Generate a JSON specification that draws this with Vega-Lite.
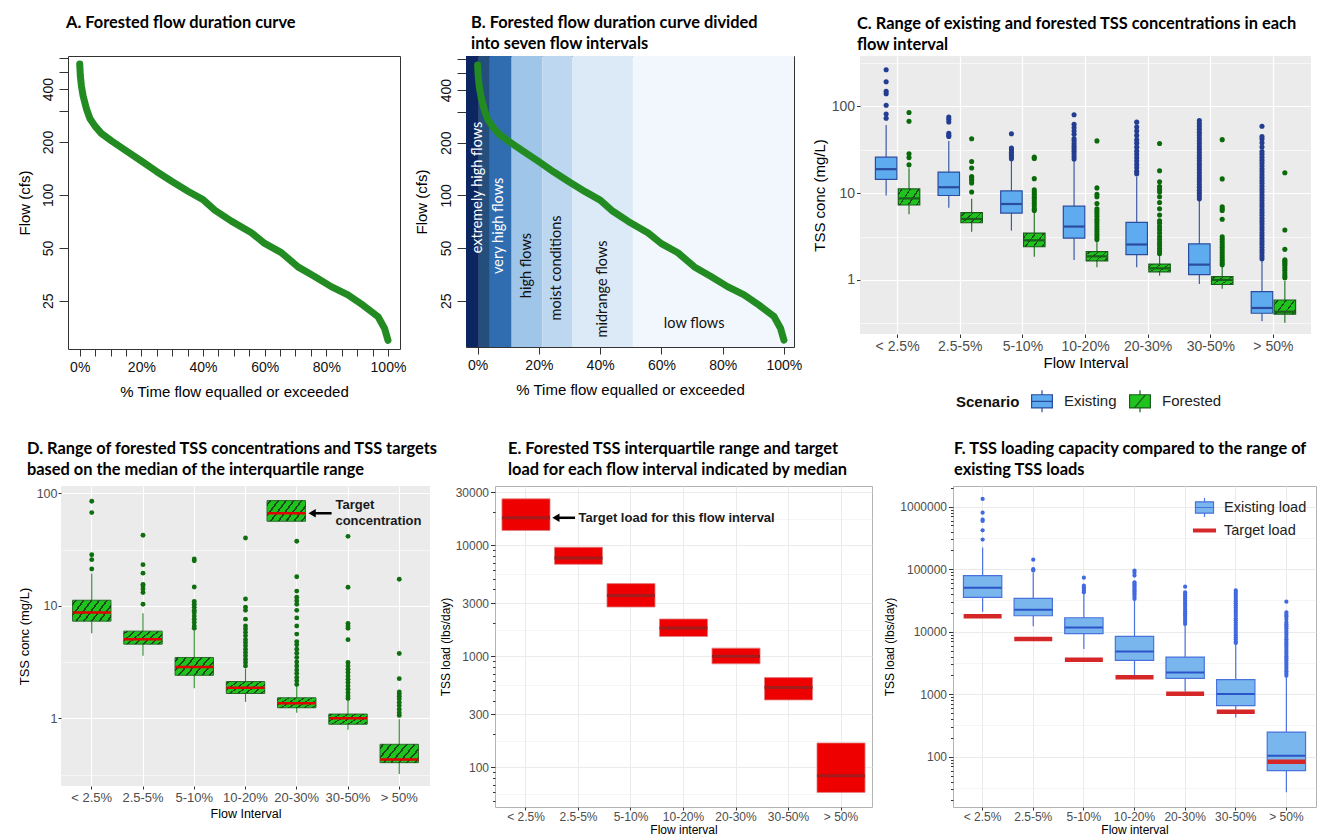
{
"$schema": "https://vega.github.io/schema/vega-lite/v6.json",
"background": "white",
"padding": {"left": 16, "top": 14, "right": 0, "bottom": 0},
"config": {
 "view": {"stroke": null},
 "font": "Liberation Sans",
 "axis": {"labelFont": "Liberation Sans", "titleFont": "Liberation Sans", "titleFontWeight": "normal", "domain": false, "labelColor": "#4d4d4d", "titleColor": "#000000", "tickColor": "#333333", "labelOverlap": false, "labelFlush": false},
 "title": {"font": "Lato", "fontWeight": "bold", "fontSize": 16.4, "anchor": "start", "frame": "group", "color": "#000000", "lineHeight": 21},
 "legend": {"labelFont": "Liberation Sans", "titleFont": "Liberation Sans"},
 "tick": {"opacity": 1},
 "point": {"opacity": 1}
},
"datasets": {
 "fdc": [
  {"pct":0,"flow":556},{"pct":0.2,"flow":477},{"pct":0.54,"flow":418},{"pct":1.1,"flow":366},{"pct":2.2,"flow":308},{"pct":3.3,"flow":272},{"pct":4.9,"flow":247},{"pct":7,"flow":224},{"pct":10.3,"flow":203},{"pct":15.1,"flow":178},{"pct":20,"flow":156},{"pct":24.9,"flow":136},{"pct":29.7,"flow":120},{"pct":35.1,"flow":105},{"pct":40,"flow":94},{"pct":43.8,"flow":82},{"pct":49.2,"flow":71},{"pct":55.7,"flow":61},{"pct":60,"flow":53},{"pct":65.4,"flow":47},{"pct":70.8,"flow":39},{"pct":76.2,"flow":34.4},{"pct":81.6,"flow":30.1},{"pct":87,"flow":27},{"pct":91.9,"flow":23.6},{"pct":96.8,"flow":20.3},{"pct":98.9,"flow":17.4},{"pct":100,"flow":14.9}
 ],
 "bands": [
  {"band":"b1","from":-3.8,"to":0.4},{"band":"b2","from":0.4,"to":4.0},{"band":"b3","from":4.0,"to":11.1},{"band":"b4","from":11.1,"to":21.1},{"band":"b5","from":21.1,"to":31.0},{"band":"b6","from":31.0,"to":50.7},{"band":"b7","from":50.7,"to":103.3}
 ],
 "blabels": [
  {"label":"extremely high flows","pct":0.0,"flow":111},
  {"label":"very high flows","pct":7.1,"flow":67},
  {"label":"high flows","pct":16.1,"flow":39.7},
  {"label":"moist conditions","pct":26.0,"flow":38.5},
  {"label":"midrange flows","pct":40.8,"flow":29.2},
  {"label":"low  flows","pct":70.7,"flow":18.4}
 ],
 "cbox": [
  {"cat":"< 2.5%","scenario":"Existing","lo":9.4,"q1":14.4,"med":18.9,"q3":26,"hi":61},
  {"cat":"2.5-5%","scenario":"Existing","lo":6.8,"q1":9.4,"med":11.7,"q3":17.5,"hi":40},
  {"cat":"5-10%","scenario":"Existing","lo":3.7,"q1":5.9,"med":7.5,"q3":10.6,"hi":24.5},
  {"cat":"10-20%","scenario":"Existing","lo":1.7,"q1":3.03,"med":4.12,"q3":7.07,"hi":23.8},
  {"cat":"20-30%","scenario":"Existing","lo":1.4,"q1":1.96,"med":2.56,"q3":4.6,"hi":15.5},
  {"cat":"30-50%","scenario":"Existing","lo":0.9,"q1":1.15,"med":1.5,"q3":2.6,"hi":8.4},
  {"cat":"> 50%","scenario":"Existing","lo":0.334,"q1":0.413,"med":0.475,"q3":0.733,"hi":1.67},
  {"cat":"< 2.5%","scenario":"Forested","lo":5.7,"q1":7.3,"med":8.7,"q3":11.2,"hi":19.4},
  {"cat":"2.5-5%","scenario":"Forested","lo":3.59,"q1":4.56,"med":5.05,"q3":5.95,"hi":8.6},
  {"cat":"5-10%","scenario":"Forested","lo":1.85,"q1":2.41,"med":2.86,"q3":3.47,"hi":6.0},
  {"cat":"10-20%","scenario":"Forested","lo":1.4,"q1":1.66,"med":1.87,"q3":2.12,"hi":2.77},
  {"cat":"20-30%","scenario":"Forested","lo":1.12,"q1":1.24,"med":1.36,"q3":1.52,"hi":1.94},
  {"cat":"30-50%","scenario":"Forested","lo":0.79,"q1":0.885,"med":1.0,"q3":1.09,"hi":1.43},
  {"cat":"> 50%","scenario":"Forested","lo":0.32,"q1":0.403,"med":0.43,"q3":0.587,"hi":0.98}
 ],
 "cout": [
  {"cat":"< 2.5%","scenario":"Existing","v":264},{"cat":"< 2.5%","scenario":"Existing","v":192},{"cat":"< 2.5%","scenario":"Existing","v":149},{"cat":"< 2.5%","scenario":"Existing","v":140},{"cat":"< 2.5%","scenario":"Existing","v":103},{"cat":"< 2.5%","scenario":"Existing","v":81.5},{"cat":"< 2.5%","scenario":"Existing","v":73},
  {"cat":"2.5-5%","scenario":"Existing","v":75.4},{"cat":"2.5-5%","scenario":"Existing","v":70.9},{"cat":"2.5-5%","scenario":"Existing","v":66.1},{"cat":"2.5-5%","scenario":"Existing","v":49},{"cat":"2.5-5%","scenario":"Existing","v":46.5},{"cat":"2.5-5%","scenario":"Existing","v":45},
  {"cat":"5-10%","scenario":"Existing","v":48.3},{"cat":"5-10%","scenario":"Existing","v":33.2},{"cat":"5-10%","scenario":"Existing","v":31.5},{"cat":"5-10%","scenario":"Existing","v":29.6},{"cat":"5-10%","scenario":"Existing","v":27.9},{"cat":"5-10%","scenario":"Existing","v":26.4},{"cat":"5-10%","scenario":"Existing","v":25},
  {"cat":"10-20%","scenario":"Existing","v":80},{"cat":"10-20%","scenario":"Existing","v":62},{"cat":"10-20%","scenario":"Existing","v":56.6},{"cat":"10-20%","scenario":"Existing","v":51.9},{"cat":"10-20%","scenario":"Existing","v":47.6},{"cat":"10-20%","scenario":"Existing","v":42.3},{"cat":"10-20%","scenario":"Existing","v":39.9},{"cat":"10-20%","scenario":"Existing","v":37.1},{"cat":"10-20%","scenario":"Existing","v":34.7},{"cat":"10-20%","scenario":"Existing","v":32.6},{"cat":"10-20%","scenario":"Existing","v":30.5},{"cat":"10-20%","scenario":"Existing","v":28.5},{"cat":"10-20%","scenario":"Existing","v":26.5},{"cat":"10-20%","scenario":"Existing","v":24.8},
  {"cat":"20-30%","scenario":"Existing","v":65.8},{"cat":"20-30%","scenario":"Existing","v":57.7},{"cat":"20-30%","scenario":"Existing","v":51.9},{"cat":"20-30%","scenario":"Existing","v":46.3},{"cat":"20-30%","scenario":"Existing","v":41.1},{"cat":"20-30%","scenario":"Existing","v":37.7},{"cat":"20-30%","scenario":"Existing","v":33.9},{"cat":"20-30%","scenario":"Existing","v":30.5},{"cat":"20-30%","scenario":"Existing","v":27.9},{"cat":"20-30%","scenario":"Existing","v":25.6},{"cat":"20-30%","scenario":"Existing","v":23.4},{"cat":"20-30%","scenario":"Existing","v":21.4},{"cat":"20-30%","scenario":"Existing","v":19.6},{"cat":"20-30%","scenario":"Existing","v":17.9},{"cat":"20-30%","scenario":"Existing","v":16.7},
  {"cat":"30-50%","scenario":"Existing","v":8.6},{"cat":"30-50%","scenario":"Existing","v":9.3},{"cat":"30-50%","scenario":"Existing","v":10},{"cat":"30-50%","scenario":"Existing","v":10.8},{"cat":"30-50%","scenario":"Existing","v":11.7},{"cat":"30-50%","scenario":"Existing","v":12.6},{"cat":"30-50%","scenario":"Existing","v":13.6},{"cat":"30-50%","scenario":"Existing","v":14.7},{"cat":"30-50%","scenario":"Existing","v":15.9},{"cat":"30-50%","scenario":"Existing","v":17.2},{"cat":"30-50%","scenario":"Existing","v":18.6},{"cat":"30-50%","scenario":"Existing","v":20},{"cat":"30-50%","scenario":"Existing","v":21.6},{"cat":"30-50%","scenario":"Existing","v":23.4},{"cat":"30-50%","scenario":"Existing","v":25.2},{"cat":"30-50%","scenario":"Existing","v":27.2},{"cat":"30-50%","scenario":"Existing","v":29.4},{"cat":"30-50%","scenario":"Existing","v":31.8},{"cat":"30-50%","scenario":"Existing","v":34.3},{"cat":"30-50%","scenario":"Existing","v":37},{"cat":"30-50%","scenario":"Existing","v":40},{"cat":"30-50%","scenario":"Existing","v":43.2},{"cat":"30-50%","scenario":"Existing","v":46.7},{"cat":"30-50%","scenario":"Existing","v":50.4},{"cat":"30-50%","scenario":"Existing","v":54.4},{"cat":"30-50%","scenario":"Existing","v":58.8},{"cat":"30-50%","scenario":"Existing","v":63.5},{"cat":"30-50%","scenario":"Existing","v":68.9},
  {"cat":"> 50%","scenario":"Existing","v":1.75},{"cat":"> 50%","scenario":"Existing","v":1.89},{"cat":"> 50%","scenario":"Existing","v":2.04},{"cat":"> 50%","scenario":"Existing","v":2.2},{"cat":"> 50%","scenario":"Existing","v":2.38},{"cat":"> 50%","scenario":"Existing","v":2.57},{"cat":"> 50%","scenario":"Existing","v":2.78},{"cat":"> 50%","scenario":"Existing","v":3.0},{"cat":"> 50%","scenario":"Existing","v":3.24},{"cat":"> 50%","scenario":"Existing","v":3.5},{"cat":"> 50%","scenario":"Existing","v":3.78},{"cat":"> 50%","scenario":"Existing","v":4.08},{"cat":"> 50%","scenario":"Existing","v":4.41},{"cat":"> 50%","scenario":"Existing","v":4.76},{"cat":"> 50%","scenario":"Existing","v":5.14},{"cat":"> 50%","scenario":"Existing","v":5.55},{"cat":"> 50%","scenario":"Existing","v":6.0},{"cat":"> 50%","scenario":"Existing","v":6.48},{"cat":"> 50%","scenario":"Existing","v":7.0},{"cat":"> 50%","scenario":"Existing","v":7.56},{"cat":"> 50%","scenario":"Existing","v":8.16},{"cat":"> 50%","scenario":"Existing","v":8.82},{"cat":"> 50%","scenario":"Existing","v":9.52},{"cat":"> 50%","scenario":"Existing","v":10.3},{"cat":"> 50%","scenario":"Existing","v":11.1},{"cat":"> 50%","scenario":"Existing","v":12},{"cat":"> 50%","scenario":"Existing","v":13},{"cat":"> 50%","scenario":"Existing","v":14},{"cat":"> 50%","scenario":"Existing","v":15.1},{"cat":"> 50%","scenario":"Existing","v":16.3},{"cat":"> 50%","scenario":"Existing","v":17.6},{"cat":"> 50%","scenario":"Existing","v":19},{"cat":"> 50%","scenario":"Existing","v":20.6},{"cat":"> 50%","scenario":"Existing","v":22.2},{"cat":"> 50%","scenario":"Existing","v":24},{"cat":"> 50%","scenario":"Existing","v":25.9},{"cat":"> 50%","scenario":"Existing","v":28},{"cat":"> 50%","scenario":"Existing","v":30.2},{"cat":"> 50%","scenario":"Existing","v":34},{"cat":"> 50%","scenario":"Existing","v":38},{"cat":"> 50%","scenario":"Existing","v":42},{"cat":"> 50%","scenario":"Existing","v":45},{"cat":"> 50%","scenario":"Existing","v":59},
  {"cat":"< 2.5%","scenario":"Forested","v":84.9},{"cat":"< 2.5%","scenario":"Forested","v":67.3},{"cat":"< 2.5%","scenario":"Forested","v":28.4},{"cat":"< 2.5%","scenario":"Forested","v":25.7},{"cat":"< 2.5%","scenario":"Forested","v":21.2},
  {"cat":"2.5-5%","scenario":"Forested","v":42.3},{"cat":"2.5-5%","scenario":"Forested","v":23.2},{"cat":"2.5-5%","scenario":"Forested","v":19.5},{"cat":"2.5-5%","scenario":"Forested","v":15.5},{"cat":"2.5-5%","scenario":"Forested","v":15},{"cat":"2.5-5%","scenario":"Forested","v":14.1},{"cat":"2.5-5%","scenario":"Forested","v":13.1},{"cat":"2.5-5%","scenario":"Forested","v":10.3},
  {"cat":"5-10%","scenario":"Forested","v":26},{"cat":"5-10%","scenario":"Forested","v":25.1},{"cat":"5-10%","scenario":"Forested","v":14.7},{"cat":"5-10%","scenario":"Forested","v":10.9},{"cat":"5-10%","scenario":"Forested","v":10.3},{"cat":"5-10%","scenario":"Forested","v":9.7},{"cat":"5-10%","scenario":"Forested","v":9.1},{"cat":"5-10%","scenario":"Forested","v":8.7},{"cat":"5-10%","scenario":"Forested","v":8.1},{"cat":"5-10%","scenario":"Forested","v":7.6},{"cat":"5-10%","scenario":"Forested","v":7.1},{"cat":"5-10%","scenario":"Forested","v":6.6},{"cat":"5-10%","scenario":"Forested","v":6.3},
  {"cat":"10-20%","scenario":"Forested","v":40},{"cat":"10-20%","scenario":"Forested","v":11.5},{"cat":"10-20%","scenario":"Forested","v":9.7},{"cat":"10-20%","scenario":"Forested","v":9.1},{"cat":"10-20%","scenario":"Forested","v":7.6},{"cat":"10-20%","scenario":"Forested","v":6.6},{"cat":"10-20%","scenario":"Forested","v":6.2},{"cat":"10-20%","scenario":"Forested","v":5.8},{"cat":"10-20%","scenario":"Forested","v":5.4},{"cat":"10-20%","scenario":"Forested","v":5},{"cat":"10-20%","scenario":"Forested","v":4.7},{"cat":"10-20%","scenario":"Forested","v":4.4},{"cat":"10-20%","scenario":"Forested","v":4.1},{"cat":"10-20%","scenario":"Forested","v":3.84},{"cat":"10-20%","scenario":"Forested","v":3.59},{"cat":"10-20%","scenario":"Forested","v":3.35},{"cat":"10-20%","scenario":"Forested","v":3.13},{"cat":"10-20%","scenario":"Forested","v":2.92},
  {"cat":"20-30%","scenario":"Forested","v":37.4},{"cat":"20-30%","scenario":"Forested","v":18.1},{"cat":"20-30%","scenario":"Forested","v":13.5},{"cat":"20-30%","scenario":"Forested","v":11.9},{"cat":"20-30%","scenario":"Forested","v":11.1},{"cat":"20-30%","scenario":"Forested","v":10.3},{"cat":"20-30%","scenario":"Forested","v":9.1},{"cat":"20-30%","scenario":"Forested","v":7.8},{"cat":"20-30%","scenario":"Forested","v":6.6},{"cat":"20-30%","scenario":"Forested","v":5.6},{"cat":"20-30%","scenario":"Forested","v":4.8},{"cat":"20-30%","scenario":"Forested","v":4.5},{"cat":"20-30%","scenario":"Forested","v":4.1},{"cat":"20-30%","scenario":"Forested","v":3.79},{"cat":"20-30%","scenario":"Forested","v":3.47},{"cat":"20-30%","scenario":"Forested","v":3.17},{"cat":"20-30%","scenario":"Forested","v":2.92},{"cat":"20-30%","scenario":"Forested","v":2.69},{"cat":"20-30%","scenario":"Forested","v":2.5},{"cat":"20-30%","scenario":"Forested","v":2.3},{"cat":"20-30%","scenario":"Forested","v":2.15},{"cat":"20-30%","scenario":"Forested","v":2.0},
  {"cat":"30-50%","scenario":"Forested","v":41.4},{"cat":"30-50%","scenario":"Forested","v":14.6},{"cat":"30-50%","scenario":"Forested","v":6.96},{"cat":"30-50%","scenario":"Forested","v":6.6},{"cat":"30-50%","scenario":"Forested","v":6.3},{"cat":"30-50%","scenario":"Forested","v":5},{"cat":"30-50%","scenario":"Forested","v":3.13},{"cat":"30-50%","scenario":"Forested","v":2.92},{"cat":"30-50%","scenario":"Forested","v":2.73},{"cat":"30-50%","scenario":"Forested","v":2.55},{"cat":"30-50%","scenario":"Forested","v":2.38},{"cat":"30-50%","scenario":"Forested","v":2.22},{"cat":"30-50%","scenario":"Forested","v":2.08},{"cat":"30-50%","scenario":"Forested","v":1.94},{"cat":"30-50%","scenario":"Forested","v":1.81},{"cat":"30-50%","scenario":"Forested","v":1.69},{"cat":"30-50%","scenario":"Forested","v":1.58},{"cat":"30-50%","scenario":"Forested","v":1.5},
  {"cat":"> 50%","scenario":"Forested","v":17.2},{"cat":"> 50%","scenario":"Forested","v":3.76},{"cat":"> 50%","scenario":"Forested","v":2.25},{"cat":"> 50%","scenario":"Forested","v":1.71},{"cat":"> 50%","scenario":"Forested","v":1.64},{"cat":"> 50%","scenario":"Forested","v":1.56},{"cat":"> 50%","scenario":"Forested","v":1.48},{"cat":"> 50%","scenario":"Forested","v":1.38},{"cat":"> 50%","scenario":"Forested","v":1.29},{"cat":"> 50%","scenario":"Forested","v":1.2},{"cat":"> 50%","scenario":"Forested","v":1.12},{"cat":"> 50%","scenario":"Forested","v":1.06}
 ],
 "ebox": [
  {"cat":"< 2.5%","q1":13600,"med":17700,"q3":26200},
  {"cat":"2.5-5%","q1":6740,"med":7690,"q3":9600},
  {"cat":"5-10%","q1":2780,"med":3540,"q3":4520},
  {"cat":"10-20%","q1":1510,"med":1800,"q3":2170},
  {"cat":"20-30%","q1":857,"med":1004,"q3":1186},
  {"cat":"30-50%","q1":405,"med":524,"q3":644},
  {"cat":"> 50%","q1":59.5,"med":84,"q3":166}
 ],
 "fbox": [
  {"cat":"< 2.5%","lo":20900,"q1":35400,"med":50600,"q3":78700,"hi":223000,"target":17600},
  {"cat":"2.5-5%","lo":12200,"q1":18000,"med":22500,"q3":34100,"hi":87000,"target":7630},
  {"cat":"5-10%","lo":5300,"q1":9300,"med":11700,"q3":16700,"hi":40000,"target":3570},
  {"cat":"10-20%","lo":1980,"q1":3470,"med":4840,"q3":8400,"hi":31000,"target":1860},
  {"cat":"20-30%","lo":1100,"q1":1790,"med":2230,"q3":3930,"hi":12800,"target":1020},
  {"cat":"30-50%","lo":426,"q1":655,"med":1008,"q3":1706,"hi":6400,"target":525},
  {"cat":"> 50%","lo":27,"q1":60,"med":104,"q3":248,"hi":1950,"target":83}
 ],
 "fout": [
  {"cat":"< 2.5%","v":1330000},{"cat":"< 2.5%","v":800000},{"cat":"< 2.5%","v":620000},{"cat":"< 2.5%","v":590000},{"cat":"< 2.5%","v":418000},{"cat":"< 2.5%","v":297000},
  {"cat":"2.5-5%","v":142000},{"cat":"2.5-5%","v":100000},{"cat":"2.5-5%","v":95000},
  {"cat":"5-10%","v":73000},{"cat":"5-10%","v":54500},{"cat":"5-10%","v":51000},{"cat":"5-10%","v":48000},{"cat":"5-10%","v":45000},{"cat":"5-10%","v":42600},
  {"cat":"10-20%","v":95000},{"cat":"10-20%","v":88000},{"cat":"10-20%","v":79000},{"cat":"10-20%","v":61500},{"cat":"10-20%","v":58000},{"cat":"10-20%","v":55000},{"cat":"10-20%","v":52000},{"cat":"10-20%","v":49000},{"cat":"10-20%","v":46000},{"cat":"10-20%","v":43500},{"cat":"10-20%","v":41000},{"cat":"10-20%","v":38500},{"cat":"10-20%","v":36000},{"cat":"10-20%","v":33400},
  {"cat":"20-30%","v":52500},{"cat":"20-30%","v":42600},{"cat":"20-30%","v":39500},{"cat":"20-30%","v":36500},{"cat":"20-30%","v":34000},{"cat":"20-30%","v":31500},{"cat":"20-30%","v":29000},{"cat":"20-30%","v":27000},{"cat":"20-30%","v":25000},{"cat":"20-30%","v":23000},{"cat":"20-30%","v":21300},{"cat":"20-30%","v":19700},{"cat":"20-30%","v":18200},{"cat":"20-30%","v":16800},{"cat":"20-30%","v":15500},{"cat":"20-30%","v":14400},{"cat":"20-30%","v":13300},
  {"cat":"30-50%","v":45600},{"cat":"30-50%","v":42000},{"cat":"30-50%","v":39000},{"cat":"30-50%","v":36000},{"cat":"30-50%","v":33300},{"cat":"30-50%","v":30800},{"cat":"30-50%","v":28500},{"cat":"30-50%","v":26300},{"cat":"30-50%","v":24300},{"cat":"30-50%","v":22500},{"cat":"30-50%","v":20800},{"cat":"30-50%","v":19200},{"cat":"30-50%","v":17800},{"cat":"30-50%","v":16400},{"cat":"30-50%","v":15200},{"cat":"30-50%","v":14000},{"cat":"30-50%","v":13000},{"cat":"30-50%","v":12000},{"cat":"30-50%","v":11100},{"cat":"30-50%","v":10300},{"cat":"30-50%","v":9500},{"cat":"30-50%","v":8800},{"cat":"30-50%","v":8100},{"cat":"30-50%","v":7500},{"cat":"30-50%","v":6900},{"cat":"30-50%","v":6600},
  {"cat":"> 50%","v":30200},{"cat":"> 50%","v":20400},{"cat":"> 50%","v":18700},{"cat":"> 50%","v":17600},{"cat":"> 50%","v":16000},{"cat":"> 50%","v":14300},{"cat":"> 50%","v":13200},{"cat":"> 50%","v":12200},{"cat":"> 50%","v":11300},{"cat":"> 50%","v":10400},{"cat":"> 50%","v":9600},{"cat":"> 50%","v":8900},{"cat":"> 50%","v":8200},{"cat":"> 50%","v":7600},{"cat":"> 50%","v":7000},{"cat":"> 50%","v":6500},{"cat":"> 50%","v":6000},{"cat":"> 50%","v":5550},{"cat":"> 50%","v":5100},{"cat":"> 50%","v":4750},{"cat":"> 50%","v":4400},{"cat":"> 50%","v":4050},{"cat":"> 50%","v":3750},{"cat":"> 50%","v":3450},{"cat":"> 50%","v":3200},{"cat":"> 50%","v":2950},{"cat":"> 50%","v":2730},{"cat":"> 50%","v":2520},{"cat":"> 50%","v":2330},{"cat":"> 50%","v":2150},{"cat":"> 50%","v":1980}
 ]
},
"vconcat": [
 {"hconcat": [
  {"width": 7, "height": 1, "data": {"values": [{"a": 0}]}, "mark": {"type": "point", "opacity": 0}, "encoding": {}},
  {"hconcat": [
  {
   "width": 332, "height": 293,
   "title": {"text": "A. Forested flow duration curve", "offset": 25, "dx": -2},
   "view": {"stroke": "#333333", "strokeWidth": 1},
   "data": {"name": "fdc"},
   "mark": {"type": "line", "color": "#228b22", "strokeWidth": 7, "strokeCap": "round", "strokeJoin": "round", "clip": true},
   "encoding": {
    "x": {"field": "pct", "type": "quantitative", "scale": {"domain": [-3.8, 103.9], "nice": false, "zero": false},
     "axis": {"values": [0,5,10,15,20,25,30,35,40,45,50,55,60,65,70,75,80,85,90,95,100], "labelExpr": "datum.value % 20 == 0 ? datum.value + '%' : ''", "title": "% Time flow equalled or exceeded", "grid": false, "tickSize": 7, "tickColor": "#333333", "labelColor": "#111111", "labelFontSize": 14, "titleFontSize": 15, "labelPadding": 4, "titlePadding": 10}},
    "y": {"field": "flow", "type": "quantitative", "scale": {"type": "log", "domain": [13.3, 617], "nice": false},
     "axis": {"values": [25,50,100,200,300,400,500,600], "labelExpr": "indexof([25,50,100,200,400], datum.value) >= 0 ? format(datum.value, 'd') : ''", "title": "Flow (cfs)", "grid": false, "tickSize": 9, "tickColor": "#333333", "labelAngle": 270, "labelAlign": "center", "labelBaseline": "bottom", "labelFontSize": 14, "labelColor": "#111111", "titleFontSize": 15, "labelPadding": 4, "titlePadding": 9}}
   }
  },
  {
   "width": 328, "height": 291,
   "title": {"text": ["B. Forested flow duration curve divided", "into seven flow intervals"], "offset": 4, "dx": 5},
   "view": {"stroke": "#333333", "strokeWidth": 1},
   "layer": [
    {"data": {"name": "bands"}, "mark": {"type": "rect"},
     "encoding": {
      "x": {"field": "from", "type": "quantitative", "scale": {"domain": [-3.8, 103.3], "nice": false, "zero": false}},
      "x2": {"field": "to"},
      "color": {"field": "band", "type": "nominal", "scale": {"domain": ["b1","b2","b3","b4","b5","b6","b7"], "range": ["#0b2660","#244e7c","#2f6db0","#9fc5e8","#bcd7ef","#dce9f6","#f2f7fd"]}, "legend": null}
     }},
    {"data": {"name": "blabels"}, "transform": [{"filter": "datum.label != 'low  flows'"}],
     "mark": {"type": "text", "angle": 270, "font": "Lato", "fontSize": 14.5, "align": "center", "baseline": "middle"},
     "encoding": {
      "x": {"field": "pct", "type": "quantitative"},
      "y": {"field": "flow", "type": "quantitative"},
      "text": {"field": "label"},
      "color": {"condition": {"test": "datum.label == 'extremely high flows' || datum.label == 'very high flows'", "value": "#ffffff"}, "value": "#111111"}
     }},
    {"data": {"name": "blabels"}, "transform": [{"filter": "datum.label == 'low  flows'"}],
     "mark": {"type": "text", "font": "Lato", "fontSize": 14.5, "align": "center", "baseline": "middle", "color": "#111111"},
     "encoding": {
      "x": {"field": "pct", "type": "quantitative"},
      "y": {"field": "flow", "type": "quantitative"},
      "text": {"field": "label"}
     }},
    {"data": {"name": "fdc"},
     "mark": {"type": "line", "color": "#228b22", "strokeWidth": 7, "strokeCap": "round", "strokeJoin": "round", "clip": true},
     "encoding": {
      "x": {"field": "pct", "type": "quantitative", "scale": {"domain": [-3.8, 103.3], "nice": false, "zero": false},
       "axis": {"values": [0,5,10,15,20,25,30,35,40,45,50,55,60,65,70,75,80,85,90,95,100], "labelExpr": "datum.value % 20 == 0 ? datum.value + '%' : ''", "title": "% Time flow equalled or exceeded", "grid": false, "tickSize": 7, "tickColor": "#333333", "labelColor": "#111111", "labelFontSize": 14, "titleFontSize": 15, "labelPadding": 4, "titlePadding": 10}},
      "y": {"field": "flow", "type": "quantitative", "scale": {"type": "log", "domain": [13.6, 626], "nice": false},
       "axis": {"values": [25,50,100,200,300,400,500,600], "labelExpr": "indexof([25,50,100,200,400], datum.value) >= 0 ? format(datum.value, 'd') : ''", "title": "Flow (cfs)", "grid": false, "tickSize": 9, "tickColor": "#333333", "labelAngle": 270, "labelAlign": "center", "labelBaseline": "bottom", "labelFontSize": 14, "labelColor": "#111111", "titleFontSize": 15, "labelPadding": 4, "titlePadding": 10}}
     }}
   ]
  },
  {
   "width": 451, "height": 278,
   "title": {"text": ["C. Range of existing and forested TSS concentrations in each", "flow interval"], "offset": 3, "dx": -3},
   "view": {"fill": "#ebebeb", "stroke": null},
   "encoding": {
    "x": {"field": "cat", "type": "nominal", "sort": ["< 2.5%","2.5-5%","5-10%","10-20%","20-30%","30-50%","> 50%"], "scale": {"domain": ["< 2.5%","2.5-5%","5-10%","10-20%","20-30%","30-50%","> 50%"], "paddingInner": 0, "paddingOuter": 0.1},
     "axis": {"title": "Flow Interval", "labelAngle": 0, "labelFontSize": 14, "titleFontSize": 15, "tickSize": 3.5, "labelPadding": 2, "titlePadding": 2, "grid": true, "gridColor": "#ffffff", "gridWidth": 1.2, "bandPosition": 0.5}},
    "xOffset": {"field": "scenario", "type": "nominal", "scale": {"domain": ["Existing","Forested"], "paddingInner": 0.06, "paddingOuter": 0.4}}
   },
   "layer": [
    {"data": {"name": "cbox"}, "mark": {"type": "rule", "strokeWidth": 1.2},
     "encoding": {
      "y": {"field": "lo", "type": "quantitative", "scale": {"type": "log", "domain": [0.238, 381], "nice": false},
       "axis": {"values": [0.3162,1,3.162,10,31.62,100,316.2], "labelExpr": "datum.value == 1 || datum.value == 10 || datum.value == 100 ? format(datum.value, 'd') : ''", "title": "TSS conc (mg/L)", "titleFontSize": 15, "labelFontSize": 14, "tickSize": 3.5, "labelPadding": 2, "titlePadding": 4, "grid": true, "gridColor": "#ffffff",
        "gridWidth": {"condition": {"test": "datum.value == 1 || datum.value == 10 || datum.value == 100", "value": 1.2}, "value": 0.6},
        "tickOpacity": {"condition": {"test": "datum.value == 1 || datum.value == 10 || datum.value == 100", "value": 1}, "value": 0}}},
      "y2": {"field": "hi"},
      "color": {"condition": {"test": "datum.scenario == 'Existing'", "value": "#3b5ba5"}, "value": "#2b7a2b"}
     }},
    {"data": {"name": "cbox"}, "mark": {"type": "bar", "strokeWidth": 1.2},
     "encoding": {
      "y": {"field": "q1", "type": "quantitative"},
      "y2": {"field": "q3"},
      "fill": {"condition": {"test": "datum.scenario == 'Existing'", "value": "#5eacef"}, "value": "#1ec31e"},
      "stroke": {"condition": {"test": "datum.scenario == 'Existing'", "value": "#2b4c9e"}, "value": "#1b5e1b"}
     }},
    {"data": {"name": "cbox"}, "transform": [{"filter": "datum.scenario == 'Forested'"}],
     "mark": {"type": "bar", "fill": {"gradient": "linear", "x1": 0, "y1": 0, "x2": 1.2, "y2": 0.6, "stops": [
       {"offset": 0, "color": "rgba(0,0,0,0)"},{"offset": 0.098, "color": "rgba(0,0,0,0)"},{"offset": 0.098, "color": "#1b471b"},{"offset": 0.142, "color": "#1b471b"},{"offset": 0.142, "color": "rgba(0,0,0,0)"},
       {"offset": 0.358, "color": "rgba(0,0,0,0)"},{"offset": 0.358, "color": "#1b471b"},{"offset": 0.402, "color": "#1b471b"},{"offset": 0.402, "color": "rgba(0,0,0,0)"},
       {"offset": 0.618, "color": "rgba(0,0,0,0)"},{"offset": 0.618, "color": "#1b471b"},{"offset": 0.662, "color": "#1b471b"},{"offset": 0.662, "color": "rgba(0,0,0,0)"},
       {"offset": 0.878, "color": "rgba(0,0,0,0)"},{"offset": 0.878, "color": "#1b471b"},{"offset": 0.922, "color": "#1b471b"},{"offset": 0.922, "color": "rgba(0,0,0,0)"},{"offset": 1, "color": "rgba(0,0,0,0)"}]}},
     "encoding": {"y": {"field": "q1", "type": "quantitative"}, "y2": {"field": "q3"}}},
    {"data": {"name": "cbox"}, "mark": {"type": "tick", "thickness": 2.2, "size": 21, "opacity": 1},
     "encoding": {
      "y": {"field": "med", "type": "quantitative"},
      "color": {"condition": {"test": "datum.scenario == 'Existing'", "value": "#2b4c9e"}, "value": "#1b5e1b"}
     }},
    {"data": {"name": "cout"}, "mark": {"type": "point", "filled": true, "size": 26, "opacity": 1},
     "encoding": {
      "y": {"field": "v", "type": "quantitative"},
      "color": {"condition": {"test": "datum.scenario == 'Existing'", "value": "#233d91"}, "value": "#0a6a0a"}
     }},
    {"data": {"name": "cbox"}, "mark": {"type": "point", "filled": true, "size": 0, "strokeWidth": 0, "opacity": 1},
     "encoding": {
      "y": {"field": "med", "type": "quantitative"},
      "fill": {"field": "scenario", "type": "nominal", "scale": {"domain": ["Existing","Forested"], "range": ["#5eacef","#1ec31e"]},
       "legend": {"orient": "none", "legendX": 96, "legendY": 333, "direction": "horizontal", "title": "Scenario", "titleOrient": "left", "titleFontSize": 15, "titleFontWeight": "bold", "titleColor": "#111111", "labelFontSize": 15, "labelColor": "#222222", "symbolSize": 480, "symbolOpacity": 1, "symbolStrokeWidth": 1.2, "columnPadding": 10, "labelOffset": 10, "titlePadding": 10}},
      "stroke": {"field": "scenario", "type": "nominal", "scale": {"domain": ["Existing","Forested"], "range": ["#2b4c9e","#1b5e1b"]}},
      "shape": {"field": "scenario", "type": "nominal", "scale": {"domain": ["Existing","Forested"], "range": ["M-0.95,-0.6H0.95V0.6H-0.95Z M-0.95,0H0.95 M0,-0.6V-1 M0,0.6V1", "M-0.95,-0.6H0.95V0.6H-0.95Z M-0.5,0.6L0.5,-0.6 M0,-0.6V-1 M0,0.6V1"]}}
     }}
   ]
  }
  ], "spacing": 66, "bounds": "flush",
  "resolve": {"scale": {"color": "independent", "fill": "independent", "stroke": "independent", "shape": "independent"}, "legend": {"color": "independent", "fill": "independent", "stroke": "independent", "shape": "independent"}}}
 ], "spacing": 0, "bounds": "flush",
 "resolve": {"scale": {"color": "independent", "fill": "independent", "stroke": "independent", "shape": "independent"}, "legend": {"color": "independent", "fill": "independent", "stroke": "independent", "shape": "independent"}}},
 {"hconcat": [
  {
   "width": 369, "height": 300,
   "title": {"text": ["D. Range of forested TSS concentrations and TSS targets", "based on the median of the  interquartile range"], "offset": 8, "dx": -34},
   "view": {"fill": "#ebebeb", "stroke": null},
   "layer": [
    {
     "encoding": {
      "x": {"field": "cat", "type": "nominal", "sort": ["< 2.5%","2.5-5%","5-10%","10-20%","20-30%","30-50%","> 50%"], "scale": {"domain": ["< 2.5%","2.5-5%","5-10%","10-20%","20-30%","30-50%","> 50%"], "paddingInner": 0, "paddingOuter": 0.1},
       "axis": {"title": "Flow Interval", "labelAngle": 0, "labelFontSize": 13, "titleFontSize": 12.5, "tickSize": 3, "labelPadding": 2, "titlePadding": 3, "grid": true, "gridColor": "#ffffff", "gridWidth": 1.1, "bandPosition": 0.5}}
     },
     "layer": [
      {"data": {"name": "cbox"}, "transform": [{"filter": "datum.scenario == 'Forested'"}], "mark": {"type": "rule", "strokeWidth": 1.1, "color": "#2d8a2d"},
       "encoding": {
        "y": {"field": "lo", "type": "quantitative", "scale": {"type": "log", "domain": [0.25, 116], "nice": false},
         "axis": {"values": [0.3162,1,3.162,10,31.62,100], "labelExpr": "datum.value == 1 || datum.value == 10 || datum.value == 100 ? format(datum.value, 'd') : ''", "title": "TSS conc (mg/L)", "titleFontSize": 13, "labelFontSize": 12.5, "tickSize": 3, "labelPadding": 1, "titlePadding": 5, "grid": true, "gridColor": "#ffffff",
          "gridWidth": {"condition": {"test": "datum.value == 1 || datum.value == 10 || datum.value == 100", "value": 1.1}, "value": 0.55},
          "tickOpacity": {"condition": {"test": "datum.value == 1 || datum.value == 10 || datum.value == 100", "value": 1}, "value": 0}}},
        "y2": {"field": "hi"}
       }},
      {"data": {"name": "cbox"}, "transform": [{"filter": "datum.scenario == 'Forested'"}], "mark": {"type": "bar", "fill": "#1ec31e", "stroke": "#2e6b2e", "strokeWidth": 1, "width": {"band": 0.75}},
       "encoding": {"y": {"field": "q1", "type": "quantitative"}, "y2": {"field": "q3"}}},
      {"data": {"name": "cbox"}, "transform": [{"filter": "datum.scenario == 'Forested'"}],
       "mark": {"type": "bar", "width": {"band": 0.75}, "fill": {"gradient": "linear", "x1": 0, "y1": 0, "x2": 1.25, "y2": 0.5, "stops": [
         {"offset": 0, "color": "rgba(0,0,0,0)"},{"offset": 0.042, "color": "rgba(0,0,0,0)"},{"offset": 0.042, "color": "#1b471b"},{"offset": 0.078, "color": "#1b471b"},{"offset": 0.078, "color": "rgba(0,0,0,0)"},
         {"offset": 0.182, "color": "rgba(0,0,0,0)"},{"offset": 0.182, "color": "#1b471b"},{"offset": 0.218, "color": "#1b471b"},{"offset": 0.218, "color": "rgba(0,0,0,0)"},
         {"offset": 0.322, "color": "rgba(0,0,0,0)"},{"offset": 0.322, "color": "#1b471b"},{"offset": 0.358, "color": "#1b471b"},{"offset": 0.358, "color": "rgba(0,0,0,0)"},
         {"offset": 0.462, "color": "rgba(0,0,0,0)"},{"offset": 0.462, "color": "#1b471b"},{"offset": 0.498, "color": "#1b471b"},{"offset": 0.498, "color": "rgba(0,0,0,0)"},
         {"offset": 0.602, "color": "rgba(0,0,0,0)"},{"offset": 0.602, "color": "#1b471b"},{"offset": 0.638, "color": "#1b471b"},{"offset": 0.638, "color": "rgba(0,0,0,0)"},
         {"offset": 0.742, "color": "rgba(0,0,0,0)"},{"offset": 0.742, "color": "#1b471b"},{"offset": 0.778, "color": "#1b471b"},{"offset": 0.778, "color": "rgba(0,0,0,0)"},
         {"offset": 0.882, "color": "rgba(0,0,0,0)"},{"offset": 0.882, "color": "#1b471b"},{"offset": 0.918, "color": "#1b471b"},{"offset": 0.918, "color": "rgba(0,0,0,0)"},{"offset": 1, "color": "rgba(0,0,0,0)"}]}},
       "encoding": {"y": {"field": "q1", "type": "quantitative"}, "y2": {"field": "q3"}}},
      {"data": {"name": "cbox"}, "transform": [{"filter": "datum.scenario == 'Forested'"}], "mark": {"type": "tick", "thickness": 2.5, "size": 38, "color": "#e00000", "opacity": 1},
       "encoding": {"y": {"field": "med", "type": "quantitative"}}},
      {"data": {"name": "cout"}, "transform": [{"filter": "datum.scenario == 'Forested'"}], "mark": {"type": "point", "filled": true, "size": 24, "opacity": 1, "color": "#0f6e0f"},
       "encoding": {"y": {"field": "v", "type": "quantitative"}}}
     ]
    },
    {
     "layer": [
      {"data": {"values": [{"x0": 3.42, "x1": 4.17, "lo": 56.4, "hi": 86}]}, "mark": {"type": "rect", "fill": "#1ec31e", "stroke": "#2e6b2e", "strokeWidth": 1},
       "encoding": {"x": {"field": "x0", "type": "quantitative", "scale": {"domain": [-0.6, 6.6], "nice": false, "zero": false}, "axis": null}, "x2": {"field": "x1"}, "y": {"field": "lo", "type": "quantitative"}, "y2": {"field": "hi"}}},
      {"data": {"values": [{"x0": 3.42, "x1": 4.17, "lo": 56.4, "hi": 86}]},
       "mark": {"type": "rect", "fill": {"gradient": "linear", "x1": 0, "y1": 0, "x2": 1.25, "y2": 0.5, "stops": [
         {"offset": 0, "color": "rgba(0,0,0,0)"},{"offset": 0.042, "color": "rgba(0,0,0,0)"},{"offset": 0.042, "color": "#1b471b"},{"offset": 0.078, "color": "#1b471b"},{"offset": 0.078, "color": "rgba(0,0,0,0)"},
         {"offset": 0.182, "color": "rgba(0,0,0,0)"},{"offset": 0.182, "color": "#1b471b"},{"offset": 0.218, "color": "#1b471b"},{"offset": 0.218, "color": "rgba(0,0,0,0)"},
         {"offset": 0.322, "color": "rgba(0,0,0,0)"},{"offset": 0.322, "color": "#1b471b"},{"offset": 0.358, "color": "#1b471b"},{"offset": 0.358, "color": "rgba(0,0,0,0)"},
         {"offset": 0.462, "color": "rgba(0,0,0,0)"},{"offset": 0.462, "color": "#1b471b"},{"offset": 0.498, "color": "#1b471b"},{"offset": 0.498, "color": "rgba(0,0,0,0)"},
         {"offset": 0.602, "color": "rgba(0,0,0,0)"},{"offset": 0.602, "color": "#1b471b"},{"offset": 0.638, "color": "#1b471b"},{"offset": 0.638, "color": "rgba(0,0,0,0)"},
         {"offset": 0.742, "color": "rgba(0,0,0,0)"},{"offset": 0.742, "color": "#1b471b"},{"offset": 0.778, "color": "#1b471b"},{"offset": 0.778, "color": "rgba(0,0,0,0)"},
         {"offset": 0.882, "color": "rgba(0,0,0,0)"},{"offset": 0.882, "color": "#1b471b"},{"offset": 0.918, "color": "#1b471b"},{"offset": 0.918, "color": "rgba(0,0,0,0)"},{"offset": 1, "color": "rgba(0,0,0,0)"}]}},
       "encoding": {"x": {"field": "x0", "type": "quantitative"}, "x2": {"field": "x1"}, "y": {"field": "lo", "type": "quantitative"}, "y2": {"field": "hi"}}},
      {"data": {"values": [{"x0": 3.42, "x1": 4.17, "y": 66.4}]}, "mark": {"type": "rule", "color": "#e00000", "strokeWidth": 2.5},
       "encoding": {"x": {"field": "x0", "type": "quantitative"}, "x2": {"field": "x1"}, "y": {"field": "y", "type": "quantitative"}}},
      {"data": {"values": [{"x0": 4.68, "x1": 4.3, "y": 66.4}]}, "mark": {"type": "rule", "color": "#000000", "strokeWidth": 2.5},
       "encoding": {"x": {"field": "x0", "type": "quantitative"}, "x2": {"field": "x1"}, "y": {"field": "y", "type": "quantitative"}}},
      {"data": {"values": [{"x": 4.3, "y": 66.4}]}, "mark": {"type": "point", "shape": "triangle-left", "filled": true, "color": "#000000", "size": 70, "opacity": 1},
       "encoding": {"x": {"field": "x", "type": "quantitative"}, "y": {"field": "y", "type": "quantitative"}}},
      {"data": {"values": [{"t": "Target", "x": 4.755, "y": 78.8}, {"t": "concentration", "x": 4.755, "y": 57.1}]},
       "mark": {"type": "text", "align": "left", "baseline": "middle", "font": "Liberation Sans", "fontWeight": "bold", "fontSize": 13, "color": "#1a1a1a"},
       "encoding": {"x": {"field": "x", "type": "quantitative"}, "y": {"field": "y", "type": "quantitative"}, "text": {"field": "t"}}}
     ]
    }
   ],
   "resolve": {"scale": {"x": "independent"}}
  },
  {"hconcat": [
   {
    "width": 377, "height": 321,
    "title": {"text": ["E. Forested TSS interquartile range and target", "load for each flow interval indicated by median"], "offset": 8, "dx": 13},
    "view": {"fill": "#ffffff", "stroke": "#b3b3b3", "strokeWidth": 1},
    "layer": [
     {
      "encoding": {
       "x": {"field": "cat", "type": "nominal", "sort": ["< 2.5%","2.5-5%","5-10%","10-20%","20-30%","30-50%","> 50%"], "scale": {"domain": ["< 2.5%","2.5-5%","5-10%","10-20%","20-30%","30-50%","> 50%"], "paddingInner": 0, "paddingOuter": 0.09},
        "axis": {"title": "Flow interval", "labelAngle": 0, "labelFontSize": 12, "titleFontSize": 12, "tickSize": 3, "labelPadding": 1, "titlePadding": 2, "grid": true, "gridColor": "#ebebeb", "gridWidth": 1, "bandPosition": 0.5}}
      },
      "layer": [
       {"data": {"name": "ebox"}, "mark": {"type": "bar", "fill": "#ee0000", "stroke": "#e08080", "strokeWidth": 0.8, "width": {"band": 0.915}},
        "encoding": {
         "y": {"field": "q1", "type": "quantitative", "scale": {"type": "log", "domain": [44, 34200], "nice": false},
          "axis": {"values": [50,57.74,60,70,80,90,100,173.2,200,300,400,500,547.7,600,700,800,900,1000,1732,2000,3000,4000,5000,5477,6000,7000,8000,9000,10000,17321,20000,30000],
           "labelExpr": "indexof([100,300,1000,3000,10000,30000], datum.value) >= 0 ? format(datum.value, 'd') : ''",
           "title": "TSS load (lbs/day)", "titleFontSize": 12, "labelFontSize": 12, "labelPadding": 2, "titlePadding": 3, "grid": true, "gridColor": "#ebebeb",
           "gridOpacity": {"condition": {"test": "indexof([100,300,1000,3000,10000,30000,57.74,173.2,547.7,1732,5477,17321], datum.value) >= 0", "value": 1}, "value": 0},
           "gridWidth": {"condition": {"test": "indexof([100,300,1000,3000,10000,30000], datum.value) >= 0", "value": 1}, "value": 0.5},
           "tickOpacity": {"condition": {"test": "indexof([57.74,173.2,547.7,1732,5477,17321], datum.value) >= 0", "value": 0}, "value": 1},
           "tickSize": {"condition": {"test": "indexof([100,300,1000,3000,10000,30000], datum.value) >= 0", "value": 4.5}, "value": 2.5}}},
         "y2": {"field": "q3"}
        }},
       {"data": {"name": "ebox"}, "mark": {"type": "tick", "thickness": 3, "size": 48, "color": "#a31b1b", "opacity": 1},
        "encoding": {"y": {"field": "med", "type": "quantitative"}}}
      ]
     },
     {
      "layer": [
       {"data": {"values": [{"x0": 0.935, "x1": 0.58, "y": 17700}]}, "mark": {"type": "rule", "color": "#000000", "strokeWidth": 2.5},
        "encoding": {"x": {"field": "x0", "type": "quantitative", "scale": {"domain": [-0.59, 6.59], "nice": false, "zero": false}, "axis": null}, "x2": {"field": "x1"}, "y": {"field": "y", "type": "quantitative"}}},
       {"data": {"values": [{"x": 0.57, "y": 17700}]}, "mark": {"type": "point", "shape": "triangle-left", "filled": true, "color": "#000000", "size": 70, "opacity": 1},
        "encoding": {"x": {"field": "x", "type": "quantitative"}, "y": {"field": "y", "type": "quantitative"}}},
       {"data": {"values": [{"t": "Target load for this flow interval", "x": 1.0, "y": 17700}]},
        "mark": {"type": "text", "align": "left", "baseline": "middle", "font": "Liberation Sans", "fontWeight": "bold", "fontSize": 13, "color": "#1a1a1a"},
        "encoding": {"x": {"field": "x", "type": "quantitative"}, "y": {"field": "y", "type": "quantitative"}, "text": {"field": "t"}}}
      ]
     }
    ],
    "resolve": {"scale": {"x": "independent"}}
   },
   {
    "width": 363, "height": 321,
    "title": {"text": ["F. TSS loading capacity compared to the range of", "existing TSS loads"], "offset": 3, "dx": 1},
    "view": {"fill": "#ffffff", "stroke": "#b3b3b3", "strokeWidth": 1},
    "layer": [
     {
      "encoding": {
       "x": {"field": "cat", "type": "nominal", "sort": ["< 2.5%","2.5-5%","5-10%","10-20%","20-30%","30-50%","> 50%"], "scale": {"domain": ["< 2.5%","2.5-5%","5-10%","10-20%","20-30%","30-50%","> 50%"], "paddingInner": 0, "paddingOuter": 0.085},
        "axis": {"title": "Flow interval", "labelAngle": 0, "labelFontSize": 12, "titleFontSize": 12, "tickSize": 3, "labelPadding": 1, "titlePadding": 2, "grid": true, "gridColor": "#ebebeb", "gridWidth": 1, "bandPosition": 0.5}}
      },
      "layer": [
       {"data": {"name": "fbox"}, "mark": {"type": "rule", "color": "#4a72dc", "strokeWidth": 1.2},
        "encoding": {
         "y": {"field": "lo", "type": "quantitative", "scale": {"type": "log", "domain": [15.7, 2140000], "nice": false},
          "axis": {"values": [20,30,31.62,40,50,60,70,80,90,100,200,300,316.2,400,500,600,700,800,900,1000,2000,3000,3162,4000,5000,6000,7000,8000,9000,10000,20000,30000,31623,40000,50000,60000,70000,80000,90000,100000,200000,300000,316228,400000,500000,600000,700000,800000,900000,1000000,2000000],
           "labelExpr": "indexof([100,1000,10000,100000,1000000], datum.value) >= 0 ? format(datum.value, 'd') : ''",
           "title": "TSS load (lbs/day)", "titleFontSize": 12, "labelFontSize": 12, "labelPadding": 2, "titlePadding": 3, "grid": true, "gridColor": "#ebebeb",
           "gridOpacity": {"condition": {"test": "indexof([100,1000,10000,100000,1000000,31.62,316.2,3162,31623,316228], datum.value) >= 0", "value": 1}, "value": 0},
           "gridWidth": {"condition": {"test": "indexof([100,1000,10000,100000,1000000], datum.value) >= 0", "value": 1}, "value": 0.5},
           "tickOpacity": {"condition": {"test": "indexof([31.62,316.2,3162,31623,316228], datum.value) >= 0", "value": 0}, "value": 1},
           "tickSize": {"condition": {"test": "indexof([100,1000,10000,100000,1000000], datum.value) >= 0", "value": 4.5}, "value": 2.5}}},
         "y2": {"field": "hi"}
        }},
       {"data": {"name": "fbox"}, "mark": {"type": "bar", "fill": "#7ab6ee", "stroke": "#4a72dc", "strokeWidth": 1.2, "width": {"band": 0.757}},
        "encoding": {"y": {"field": "q1", "type": "quantitative"}, "y2": {"field": "q3"}}},
       {"data": {"name": "fbox"}, "mark": {"type": "tick", "thickness": 2, "size": 38, "color": "#2b54c8", "opacity": 1},
        "encoding": {"y": {"field": "med", "type": "quantitative"}}},
       {"data": {"name": "fbox"}, "mark": {"type": "tick", "thickness": 4.5, "size": 38, "color": "#d62728", "opacity": 1},
        "encoding": {"y": {"field": "target", "type": "quantitative"}}},
       {"data": {"name": "fout"}, "mark": {"type": "point", "filled": true, "size": 18, "opacity": 1, "color": "#4169e1"},
        "encoding": {"y": {"field": "v", "type": "quantitative"}}}
      ]
     },
     {"data": {"values": [{"series": "Existing load"}, {"series": "Target load"}]}, "mark": {"type": "point", "filled": true, "size": 0, "strokeWidth": 0, "opacity": 1},
      "encoding": {
       "fill": {"field": "series", "type": "nominal", "scale": {"domain": ["Existing load","Target load"], "range": ["#7ab6ee","#d62728"]},
        "legend": {"orient": "none", "legendX": 241, "legendY": 11, "title": null, "labelFontSize": 14.5, "labelColor": "#222222", "symbolSize": 361, "symbolOpacity": 1, "symbolStrokeWidth": 1.2, "rowPadding": 0, "labelOffset": 9}},
       "stroke": {"field": "series", "type": "nominal", "scale": {"domain": ["Existing load","Target load"], "range": ["#4a72dc","#d62728"]}},
       "shape": {"field": "series", "type": "nominal", "scale": {"domain": ["Existing load","Target load"], "range": ["M-0.95,-0.6H0.95V0.6H-0.95Z M-0.95,0H0.95 M0,-0.6V-1 M0,0.6V1", "M-1.15,-0.15H1.15V0.15H-1.15Z"]}}
      }}
    ]
   }
  ], "spacing": 81, "bounds": "flush",
  "resolve": {"scale": {"color": "independent", "fill": "independent", "stroke": "independent", "shape": "independent"}, "legend": {"color": "independent", "fill": "independent", "stroke": "independent", "shape": "independent"}}}
 ], "spacing": 65, "bounds": "flush",
 "resolve": {"scale": {"color": "independent", "fill": "independent", "stroke": "independent", "shape": "independent"}, "legend": {"color": "independent", "fill": "independent", "stroke": "independent", "shape": "independent"}}}
],
"spacing": 430,
"bounds": "flush",
"resolve": {"scale": {"color": "independent", "fill": "independent", "stroke": "independent", "shape": "independent"}, "legend": {"color": "independent", "fill": "independent", "stroke": "independent", "shape": "independent"}}
}
